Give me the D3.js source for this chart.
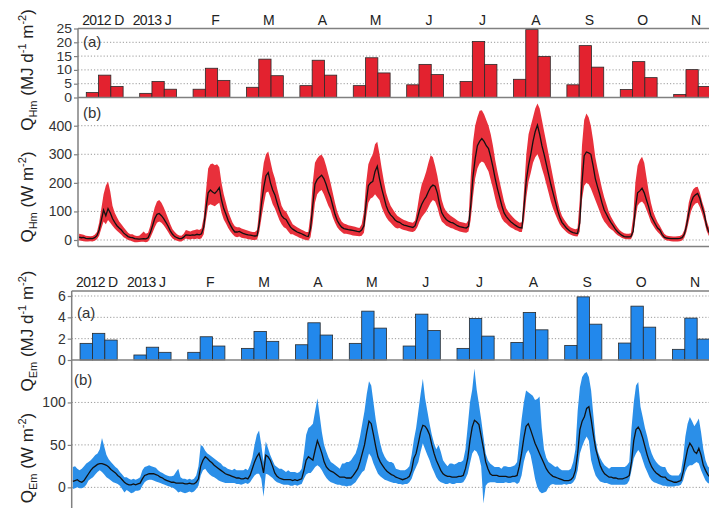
<!DOCTYPE html>
<html>
<head>
<meta charset="utf-8">
<script src="https://cdn.jsdelivr.net/npm/d3@7"></script>
<style>
  body { margin: 0; background: #fff; }
  text { font-family: "Liberation Sans", Arial, sans-serif; }
</style>
</head>
<body>
<div id="chart"></div>
<script>
const monthLabels = ['2012 D', '2013 J', 'F', 'M', 'A', 'M', 'J', 'J', 'A', 'S', 'O', 'N'];

const qhBarTicks = [0, 5, 10, 15, 20, 25];
const qhLineTicks = [0, 100, 200, 300, 400];
const qeBarTicks = [0, 2, 4, 6];
const qeLineTicks = [0, 50, 100];

// monthly totals, three bars per month (MJ d-1 m-2)
const qhBarLeft = [1.8, 1.5, 3.0, 3.7, 4.3, 4.3, 4.6, 5.8, 6.6, 4.6, 2.9, 1.1];
const qhBarMid = [8.1, 5.8, 10.6, 13.9, 13.5, 14.4, 12.0, 20.3, 24.6, 18.8, 13.0, 10.1];
const qhBarRight = [4.0, 3.0, 6.2, 7.9, 8.1, 8.9, 8.3, 12.0, 14.9, 11.0, 7.2, 4.0];

const qeBarLeft = [1.56, 0.47, 0.72, 1.09, 1.43, 1.56, 1.31, 1.09, 1.65, 1.37, 1.59, 1.0];
const qeBarMid = [2.5, 1.2, 2.18, 2.68, 3.49, 4.58, 4.3, 3.9, 4.46, 5.92, 5.05, 3.93];
const qeBarRight = [1.87, 0.72, 1.31, 1.75, 2.34, 2.99, 2.77, 2.24, 2.83, 3.36, 3.08, 1.96];

// hourly mean diurnal cycle per month, 24 values per month (W m-2)
const qhMean = [
  10, 8, 9, 6, 5, 6, 5, 8, 15, 35, 70, 105, 85, 110, 95, 75, 62, 50, 42, 35, 25, 18, 12, 9,
  8, 5, 4, 3, 4, 5, 4, 8, 25, 50, 75, 90, 93, 85, 75, 62, 48, 32, 20, 12, 8, 5, 5, 10,
  18, 17, 16, 18, 17, 20, 18, 22, 45, 110, 165, 175, 168, 163, 172, 183, 140, 110, 90, 68, 52, 38, 28, 28,
  30, 26, 22, 20, 18, 17, 15, 14, 15, 60, 130, 185, 225, 236, 200, 175, 158, 130, 105, 85, 76, 72, 58, 45,
  38, 33, 28, 25, 22, 18, 14, 12, 40, 120, 195, 212, 220, 227, 215, 195, 170, 150, 120, 90, 68, 55, 45, 40,
  38, 36, 35, 34, 32, 30, 29, 35, 50, 130, 190, 200, 205, 240, 258, 215, 180, 150, 120, 100, 88, 80, 70, 64,
  62, 56, 52, 50, 48, 46, 44, 50, 75, 105, 125, 140, 152, 170, 185, 192, 188, 165, 125, 95, 82, 72, 66, 62,
  60, 55, 50, 47, 45, 43, 42, 48, 120, 220, 285, 330, 345, 355, 345, 330, 320, 290, 255, 215, 180, 150, 120, 95,
  82, 72, 64, 58, 52, 47, 43, 42, 120, 210, 262, 300, 345, 380, 402, 370, 330, 300, 265, 230, 195, 165, 135, 105,
  80, 62, 52, 42, 35, 29, 26, 24, 23, 60, 200, 295, 308, 305, 300, 260, 215, 186, 160, 130, 105, 90, 75, 62,
  50, 38, 29, 22, 16, 12, 11, 11, 12, 30, 110, 165, 172, 181, 165, 140, 115, 85, 70, 55, 42, 35, 20, 10,
  7, 6, 5, 5, 5, 5, 6, 8, 20, 50, 95, 130, 150, 158, 163, 145, 115, 90, 50, 28, 20, 16, 13, 10
];
const qhUpper = [
  22, 20, 18, 15, 14, 13, 14, 18, 28, 60, 110, 160, 190, 205, 170, 120, 95, 80, 65, 55, 45, 35, 25, 20,
  20, 16, 14, 15, 22, 30, 22, 25, 50, 85, 115, 135, 140, 130, 115, 95, 75, 55, 38, 28, 20, 16, 15, 22,
  35, 32, 30, 33, 35, 38, 35, 40, 80, 170, 250, 265, 268, 262, 265, 255, 200, 160, 130, 100, 80, 60, 48, 45,
  45, 40, 38, 35, 32, 30, 28, 28, 35, 110, 210, 270, 300, 310, 275, 240, 215, 180, 150, 120, 105, 100, 85, 70,
  55, 50, 45, 40, 36, 32, 28, 28, 90, 200, 270, 285, 295, 298, 285, 260, 230, 200, 165, 130, 100, 80, 65, 58,
  55, 52, 50, 48, 46, 44, 42, 55, 100, 200, 265, 285, 300, 335, 344, 300, 250, 205, 165, 140, 120, 108, 95, 85,
  80, 74, 70, 67, 64, 62, 60, 68, 110, 160, 195, 215, 240, 270, 297, 290, 260, 225, 180, 140, 115, 100, 92, 85,
  80, 74, 68, 64, 62, 60, 58, 70, 220, 340, 400, 430, 452, 454, 440, 420, 400, 370, 330, 280, 240, 205, 170, 135,
  110, 98, 88, 80, 72, 66, 60, 62, 180, 300, 370, 400, 430, 460, 478, 460, 420, 380, 340, 300, 260, 220, 180, 140,
  108, 85, 72, 60, 50, 44, 40, 38, 40, 140, 330, 420, 443, 430, 400, 350, 290, 250, 215, 180, 150, 125, 100, 82,
  68, 55, 44, 34, 28, 24, 22, 22, 24, 80, 200, 260, 280, 291, 270, 220, 170, 130, 100, 80, 62, 50, 35, 22,
  16, 14, 13, 12, 12, 13, 14, 18, 35, 75, 130, 160, 178, 185, 186, 165, 135, 110, 68, 45, 34, 28, 24, 20
];
const qhLower = [
  -2, -3, -4, -5, -5, -4, -5, -3, 3, 15, 40, 65, 55, 70, 60, 50, 40, 32, 25, 18, 10, 5, 0, -2,
  -5, -8, -8, -7, -6, -6, -8, -5, 8, 25, 45, 60, 65, 60, 52, 40, 28, 15, 5, 0, -3, -5, -5, 0,
  5, 3, 2, 4, 3, 5, 3, 6, 20, 70, 120, 125, 122, 118, 125, 130, 95, 72, 58, 42, 30, 20, 12, 10,
  12, 8, 6, 5, 3, 2, 0, 0, 2, 30, 80, 125, 165, 170, 150, 125, 110, 90, 70, 55, 45, 40, 30, 20,
  20, 16, 12, 8, 5, 2, 0, -2, 10, 60, 130, 160, 170, 175, 160, 140, 120, 105, 80, 60, 45, 35, 28, 22,
  22, 20, 18, 16, 15, 14, 13, 15, 25, 80, 130, 145, 150, 160, 150, 140, 115, 95, 80, 68, 60, 52, 44, 40,
  42, 38, 35, 33, 31, 29, 28, 32, 45, 65, 80, 90, 100, 115, 130, 140, 135, 115, 85, 65, 58, 50, 46, 42,
  40, 36, 33, 30, 28, 26, 25, 30, 70, 150, 215, 250, 268, 275, 270, 255, 240, 210, 180, 145, 115, 95, 75, 64,
  58, 50, 44, 40, 35, 32, 28, 28, 70, 150, 205, 235, 270, 290, 300, 280, 250, 225, 195, 165, 135, 110, 90, 72,
  55, 44, 36, 28, 22, 18, 15, 13, 12, 30, 140, 190, 200, 195, 180, 160, 140, 120, 100, 80, 65, 55, 45, 38,
  32, 24, 17, 12, 7, 4, 3, 3, 3, 18, 70, 120, 130, 135, 125, 105, 85, 62, 50, 38, 28, 20, 10, 3,
  -2, -3, -4, -5, -5, -5, -4, -2, 8, 30, 65, 100, 118, 128, 130, 115, 92, 65, 32, 15, 8, 5, 3, 1
];

const qeMean = [
  7, 8, 9, 7, 6, 8, 12, 16, 20, 23, 25, 27, 28, 28, 27, 26, 24, 21, 19, 17, 14, 12, 9, 6,
  4, 3, 3, 4, 3, 4, 5, 10, 14, 15, 16, 16, 16, 15, 14, 12, 11, 9, 8, 7, 6, 6, 5, 5,
  5, 5, 4, 4, 5, 4, 4, 6, 10, 25, 32, 36, 34, 31, 29, 26, 24, 22, 20, 18, 16, 15, 14, 13,
  12, 11, 11, 10, 10, 11, 10, 14, 22, 30, 36, 40, 30, 17, 38, 36, 32, 25, 17, 13, 11, 10, 9, 9,
  9, 9, 8, 9, 8, 9, 10, 20, 32, 36, 34, 32, 44, 55, 48, 40, 30, 24, 21, 19, 18, 16, 14, 12,
  12, 12, 11, 11, 11, 14, 18, 22, 30, 40, 50, 65, 78, 75, 62, 48, 36, 30, 26, 22, 19, 17, 15, 14,
  12, 11, 10, 9, 10, 11, 13, 20, 34, 40, 52, 65, 73, 72, 68, 62, 50, 40, 32, 26, 20, 16, 14, 13,
  13, 12, 12, 12, 13, 13, 14, 22, 34, 55, 71, 79, 77, 74, 60, 46, 30, 22, 16, 14, 14, 14, 13, 13,
  13, 13, 12, 12, 13, 13, 14, 25, 40, 58, 72, 75, 68, 60, 52, 46, 40, 34, 28, 22, 18, 15, 13, 12,
  11, 10, 9, 8, 8, 8, 9, 12, 20, 40, 68, 78, 83, 93, 95, 80, 62, 46, 36, 26, 20, 16, 14, 12,
  12, 11, 11, 10, 10, 10, 11, 12, 14, 30, 55, 68, 71, 66, 58, 48, 38, 30, 24, 20, 17, 15, 13, 12,
  12, 9, 8, 7, 6, 6, 7, 8, 18, 32, 45, 52, 48, 42, 40, 46, 38, 26, 20, 15, 12, 11, 10, 10
];
const qeUpper = [
  24, 25, 22, 20, 22, 25, 28, 30, 32, 35, 38, 40, 45, 58, 48, 38, 33, 30, 27, 24, 22, 18, 15, 12,
  12, 10, 9, 10, 9, 10, 12, 20, 24, 25, 26, 25, 24, 23, 20, 18, 17, 15, 14, 13, 13, 14, 18, 22,
  12, 10, 10, 9, 10, 9, 10, 14, 25, 50, 48, 43, 40, 38, 36, 34, 32, 30, 28, 25, 24, 22, 21, 20,
  22, 20, 20, 20, 20, 22, 20, 26, 35, 50, 62, 67, 50, 30, 54, 46, 38, 32, 26, 24, 22, 22, 20, 18,
  20, 18, 18, 18, 17, 18, 22, 40, 62, 70, 72, 75, 90, 105, 85, 65, 50, 42, 35, 30, 28, 26, 24, 22,
  28, 28, 30, 30, 32, 36, 40, 48, 60, 75, 90, 110, 125, 120, 100, 80, 65, 52, 42, 36, 32, 30, 30, 28,
  22, 21, 20, 20, 20, 22, 25, 38, 56, 70, 90, 110, 128, 105, 90, 75, 62, 52, 45, 50, 42, 32, 28, 25,
  28, 28, 27, 28, 30, 30, 32, 45, 72, 100, 115, 140, 115, 98, 80, 60, 40, 32, 28, 26, 24, 24, 24, 22,
  25, 25, 24, 24, 25, 26, 30, 55, 80, 100, 114, 112, 110, 108, 103, 104, 107, 70, 45, 35, 30, 28, 26, 24,
  25, 22, 20, 20, 20, 20, 22, 30, 45, 90, 118, 130, 134, 136, 130, 114, 85, 56, 42, 35, 30, 26, 24, 22,
  24, 24, 24, 24, 24, 24, 24, 26, 30, 70, 100, 120, 124, 95, 83, 70, 60, 48, 40, 34, 30, 27, 25, 24,
  24, 18, 15, 14, 14, 14, 14, 18, 35, 60, 75, 83, 78, 72, 76, 81, 65, 45, 32, 25, 22, 20, 20, 20
];
const qeLower = [
  -2, -1, 0, -1, -1, 0, 3, 8, 10, 12, 15, 18, 20, 18, 15, 12, 10, 8, 6, 5, 4, 2, -2, -6,
  -3, -5, -7, -6, -4, -4, -3, 2, 6, 8, 9, 9, 8, 7, 6, 5, 4, 3, 2, 1, 0, -1, -3, -6,
  -5, -6, -7, -6, -5, -6, -5, -2, 2, 14, 20, 22, 18, 15, 13, 12, 10, 8, 7, 6, 5, 5, 5, 5,
  5, 4, 4, 3, 4, 5, 4, 6, 10, 14, 16, 16, 10, -11, 16, 15, 13, 11, 8, 6, 5, 4, 3, 3,
  3, 2, 2, 3, 2, 3, 4, 10, 15, 17, 17, 20, 24, 26, 24, 20, 15, 11, 8, 6, 5, 4, 3, 3,
  2, 2, 1, 2, 2, 4, 6, 10, 14, 18, 20, 30, 40, 36, 28, 22, 16, 13, 11, 9, 8, 7, 6, 5,
  5, 4, 4, 3, 4, 4, 6, 10, 18, 24, 30, 42, 52, 45, 38, 32, 24, 18, 12, 8, 6, 5, 4, 4,
  5, 4, 4, 5, 5, 5, 6, 10, 16, 28, 40, 44, 42, 36, 25, -19, 2, 5, 6, 6, 6, 5, 5, 5,
  5, 6, 5, 5, 6, 6, 4, 6, 14, 30, 40, 44, 38, 25, 10, 0, -5, -7, -6, -5, 0, 3, 4, 3,
  3, 3, 3, 4, 3, 4, 4, 6, 10, 20, 40, 48, 55, 60, 55, 32, 22, 14, 10, 7, 6, 5, 5, 4,
  3, 3, 3, 3, 3, 3, 3, 4, 8, 20, 34, 40, 44, 40, 32, 24, 18, 12, 8, 6, 5, 4, 3, 2,
  2, 1, 1, 1, 1, 2, 2, 3, 8, 18, 24, 26, 26, 28, 30, 28, 20, 14, 8, 5, 4, 3, 3, 3
];

// Create canvas
const width = 709;
const height = 508;

const svg = d3.select('#chart')
  .append('svg')
  .attr('width', width)
  .attr('height', height);

// rotated axis title with sub- and superscripts
const axisTitle = (g, x, y, sub, unit) => {
  const t = g.append('text')
    .attr('transform', `translate(${x}, ${y}) rotate(-90)`)
    .attr('text-anchor', 'middle')
    .attr('font-size', 17)
    .attr('fill', '#222');
  t.append('tspan').text('Q');
  t.append('tspan').attr('font-size', 11).attr('dy', 4).text(sub);
  if (unit === 'MJ') {
    t.append('tspan').attr('dy', -4).text(' (MJ d');
    t.append('tspan').attr('font-size', 11).attr('dy', -7).text('-1');
    t.append('tspan').attr('dy', 7).text(' m');
  } else {
    t.append('tspan').attr('dy', -4).text(' (W m');
  }
  t.append('tspan').attr('font-size', 11).attr('dy', -7).text('-2');
  t.append('tspan').attr('dy', 7).text(')');
};

const drawHalf = (cfg) => {
  const g = svg.append('g');
  const xEnd = cfg.x0 + 12 * cfg.step;

  const monthBand = d3.scaleBand().domain(d3.range(12)).range([cfg.x0, xEnd])
    .paddingInner(0.31).paddingOuter(0.155);
  const barBand = d3.scaleBand().domain([0, 1, 2]).range([0, monthBand.bandwidth()]);
  const xLine = d3.scaleLinear().domain([0, 12]).range([cfg.x0, xEnd]);
  const yBar = d3.scaleLinear().domain(cfg.barDomain).range([cfg.barBottom, cfg.top]);
  const yLine = d3.scaleLinear().domain(cfg.lineDomain).range([cfg.lineBottom, cfg.barBottom]);

  // dotted grid
  g.append('g').selectAll('line')
    .data(cfg.barTicks.filter((v) => v > 0)).enter()
    .append('line')
    .attr('x1', cfg.x0).attr('x2', width)
    .attr('y1', (d) => yBar(d)).attr('y2', (d) => yBar(d))
    .attr('stroke', '#9a9a9a').attr('stroke-dasharray', '1.2,2');
  g.append('g').selectAll('line')
    .data(cfg.lineTicks).enter()
    .append('line')
    .attr('x1', cfg.x0).attr('x2', width)
    .attr('y1', (d) => yLine(d)).attr('y2', (d) => yLine(d))
    .attr('stroke', '#9a9a9a').attr('stroke-dasharray', '1.2,2');

  // band + mean line
  const pts = cfg.mean.map((v, i) => ({ t: (i + 0.5) / 24, m: v, lo: cfg.lower[i], hi: cfg.upper[i] }));
  g.append('path')
    .datum(pts)
    .attr('fill', cfg.band)
    .attr('d', d3.area().x((d) => xLine(d.t)).y0((d) => yLine(d.lo)).y1((d) => yLine(d.hi)));
  g.append('path')
    .datum(pts)
    .attr('fill', 'none')
    .attr('stroke', '#111')
    .attr('stroke-width', 1.3)
    .attr('d', d3.line().x((d) => xLine(d.t)).y((d) => yLine(d.m)));

  // bars
  const bars = [];
  d3.range(12).forEach((m) => {
    [cfg.barLeft, cfg.barMid, cfg.barRight].forEach((arr, k) => bars.push({ m, k, v: arr[m] }));
  });
  g.append('g').selectAll('rect')
    .data(bars).enter()
    .append('rect')
    .attr('x', (d) => monthBand(d.m) + barBand(d.k))
    .attr('y', (d) => yBar(d.v))
    .attr('width', barBand.bandwidth())
    .attr('height', (d) => cfg.barBottom - yBar(d.v))
    .attr('fill', cfg.color)
    .attr('stroke', '#2a2a2a')
    .attr('stroke-width', 0.8);

  // frame
  [cfg.top, cfg.barBottom, cfg.lineBottom].forEach((y) => {
    g.append('line').attr('x1', cfg.x0).attr('x2', width).attr('y1', y).attr('y2', y)
      .attr('stroke', '#808080').attr('stroke-width', 1.5);
  });
  g.append('line').attr('x1', cfg.x0).attr('x2', cfg.x0).attr('y1', cfg.top).attr('y2', cfg.lineBottom)
    .attr('stroke', '#808080').attr('stroke-width', 1.5);

  // axes
  const styleAxis = (a) => {
    a.select('.domain').remove();
    a.selectAll('.tick line').attr('stroke', '#808080').attr('stroke-width', 1.2);
    a.selectAll('.tick text').attr('font-size', 14).attr('fill', '#333')
      .attr('font-family', '"Liberation Sans", Arial, sans-serif');
  };
  g.append('g').attr('transform', `translate(${cfg.x0}, 0)`)
    .call(d3.axisLeft(yBar).tickValues(cfg.barTicks).tickFormat(d3.format('d'))
      .tickSize(4).tickSizeOuter(0).tickPadding(2))
    .call(styleAxis)
    .call((a) => a.selectAll('.tick text').attr('transform', `scale(1, ${cfg.squeeze})`));
  g.append('g').attr('transform', `translate(${cfg.x0}, 0)`)
    .call(d3.axisLeft(yLine).tickValues(cfg.lineTicks).tickFormat(d3.format('d'))
      .tickSize(4).tickSizeOuter(0).tickPadding(2))
    .call(styleAxis);

  // month labels (year labels right-aligned on the month letter)
  g.append('g').selectAll('text')
    .data(monthLabels).enter()
    .append('text')
    .attr('x', (d, i) => {
      if (d.length === 1) return xLine(i + 0.5) + 4;
      return xLine(i + 0.5) + (i === 0 ? 19 : 13);
    })
    .attr('y', cfg.top - 4)
    .attr('text-anchor', (d) => (d.length > 1 ? 'end' : 'middle'))
    .attr('font-size', 14)
    .attr('letter-spacing', (d) => (d.length > 1 ? -0.6 : 0))
    .attr('fill', '#222')
    .text((d) => d);

  // panel letters
  g.append('text').attr('x', cfg.aPos[0]).attr('y', cfg.aPos[1])
    .attr('font-family', '"Liberation Serif", "Times New Roman", serif')
    .attr('font-size', 15).attr('fill', '#333').text('(a)');
  g.append('text').attr('x', cfg.bPos[0]).attr('y', cfg.bPos[1])
    .attr('font-family', '"Liberation Serif", "Times New Roman", serif')
    .attr('font-size', 15).attr('fill', '#333').text('(b)');

  axisTitle(g, 33, cfg.titleY[0], cfg.sub, 'MJ');
  axisTitle(g, 33, cfg.titleY[1], cfg.sub, 'W');
};

drawHalf({
  x0: 78, step: 53.4, top: 28.5, barBottom: 97.5, lineBottom: 246.5,
  barDomain: [0, 25], lineDomain: [-22.7, 498.7],
  barTicks: qhBarTicks, lineTicks: qhLineTicks,
  barLeft: qhBarLeft, barMid: qhBarMid, barRight: qhBarRight,
  mean: qhMean, upper: qhUpper, lower: qhLower,
  color: '#e3222f', band: '#e8303b', squeeze: 0.9,
  aPos: [83, 47], bPos: [83, 118], titleY: [70, 197], sub: 'Hm',
});

drawHalf({
  x0: 71.7, step: 53.85, top: 291, barBottom: 360, lineBottom: 509,
  barDomain: [0, 6.47], lineDomain: [-25.5, 150],
  barTicks: qeBarTicks, lineTicks: qeLineTicks,
  barLeft: qeBarLeft, barMid: qeBarMid, barRight: qeBarRight,
  mean: qeMean, upper: qeUpper, lower: qeLower,
  color: '#2288ec', band: '#2b8fe8', squeeze: 1,
  aPos: [77, 318], bPos: [74, 385], titleY: [331, 458], sub: 'Em',
});
</script>
</body>
</html>
